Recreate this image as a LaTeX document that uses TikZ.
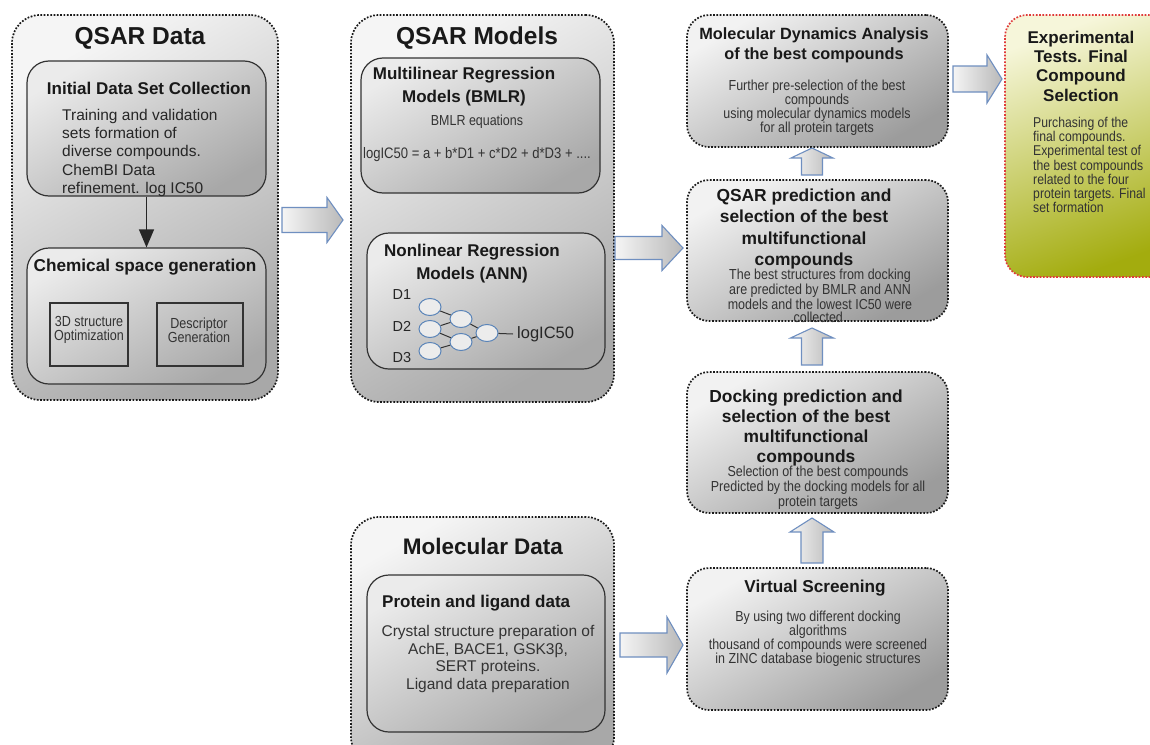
\documentclass[tikz,border=0pt]{standalone}
\usepackage{fontspec}
\setmainfont{Liberation Sans}
\newfontfamily\narrowf[FakeStretch=0.86]{Liberation Sans}
\usetikzlibrary{shapes.geometric,arrows.meta,fit}
\definecolor{arrowblue}{HTML}{6F8FC0}
\definecolor{annblue}{HTML}{5A84B8}
\definecolor{boxred}{HTML}{E03A3A}
\definecolor{olivelight}{HTML}{F6F6DA}
\definecolor{olivedark}{HTML}{A3AC0E}
\newcommand\fsz[2]{\fontsize{#1}{#2}\selectfont}
\newcommand\rarr[6]{% x0, tip x, yc, half shaft, half head, head length
  \draw[blockarrow] (#1,{#3-#4}) -- ({#2-#6},{#3-#4}) -- ({#2-#6},{#3-#5}) -- (#2,#3)
    -- ({#2-#6},{#3+#5}) -- ({#2-#6},{#3+#4}) -- (#1,{#3+#4}) -- cycle;}
\newcommand\uarr[6]{% xc, bottom y, tip y, half shaft, half head, head length
  \draw[blockarrow] ({#1-#4},#2) -- ({#1-#4},{#3+#6}) -- ({#1-#5},{#3+#6}) -- (#1,#3)
    -- ({#1+#5},{#3+#6}) -- ({#1+#4},{#3+#6}) -- ({#1+#4},#2) -- cycle;}
\begin{document}
\begin{tikzpicture}[x=1pt,y=-1pt,
  dotted border/.style={line width=1.7pt, dash pattern=on 1.7pt off 1.6pt},
  outerbox/.style={draw=black!90, dotted border, rounded corners=28pt, inner sep=0pt,
    top color=gray!8, bottom color=gray!68, shading angle=30},
  flowbox/.style={draw=black!90, dotted border, rounded corners=22pt, inner sep=0pt,
    top color=gray!10, bottom color=gray!78, shading angle=30},
  innerbox/.style={draw=black!80, line width=1.2pt, rounded corners=22pt, inner sep=0pt,
    top color=gray!16, bottom color=gray!68, shading angle=30},
  smallbox/.style={draw=black!80, line width=1.1pt, inner sep=0pt},
  blockarrow/.style={draw=arrowblue, line width=1.1pt, left color=gray!8, right color=gray!55},
  ttl/.style={inner sep=0pt, align=center, text=black!90},
  bodytxt/.style={inner sep=0pt, align=center, text=black!80},
  ann/.style={ellipse, draw=annblue, fill=gray!15, line width=1pt, minimum width=22pt, minimum height=17pt, inner sep=0pt},
  annedge/.style={draw=black!80, line width=1pt}
]
\useasboundingbox (0,0) rectangle (1150,744);
\fill[white] (0,0) rectangle (1150,744);

% ---------------- QSAR Data ----------------
\node[outerbox, fit={(12,15)(278,400)}] (qd) {};
\node[ttl, font=\fsz{24.5}{28}\bfseries] (qdt) at (140,38) {QSAR Data};
\node[innerbox, fit={(27,61)(266,196)}] (ids) {};
\node[ttl, font=\fsz{17}{18}\bfseries] (idst) at (149,88) {Initial Data Set Collection};
\node[inner sep=0pt, align=left, anchor=north west, text=black!85, font=\fsz{15.5}{18.2}] (idsb) at (62,109)
  {Training and validation\\sets formation of\\diverse compounds.\\ChemBI Data\\refinement. log IC50};
\node[innerbox, fit={(27,248)(266,384)}] (csg) {};
\node[ttl, font=\fsz{17.2}{20}\bfseries] (csgt) at (145,267) {Chemical space generation};
\node[smallbox, fit={(50,303)(128,366)}] (opt) {};
\node[bodytxt, font=\narrowf\fsz{14.6}{14}] (optt) at (89,330) {3D structure\\Optimization};
\node[smallbox, fit={(157,303)(243,366)}] (des) {};
\node[bodytxt, font=\narrowf\fsz{14.6}{14}] (dest) at (199,330) {Descriptor\\Generation};
\draw[line width=1.3pt, black!85, -{Triangle[length=18pt,width=15pt]}] (ids.south) -- (csg.north);

% ---------------- QSAR Models ----------------
\node[outerbox, fit={(351,15)(614,402)}] (qm) {};
\node[ttl, font=\fsz{24.5}{28}\bfseries] (qmt) at (477,38) {QSAR Models};
\node[innerbox, fit={(361,58)(600,193)}] (bmlr) {};
\node[ttl, font=\fsz{17}{23}\bfseries] (bmlrt) at (464,87) {Multilinear Regression\\Models (BMLR)};
\node[bodytxt, font=\narrowf\fsz{14.5}{14}] (bmlre) at (477,122) {BMLR equations};
\node[bodytxt, font=\narrowf\fsz{15.2}{14}] (bmlrq) at (477,155) {logIC50 = a + b*D1 + c*D2 + d*D3 + ....};
\node[innerbox, fit={(367,233)(605,369)}] (annb) {};
\node[ttl, font=\fsz{17}{23}\bfseries] (annt) at (472,264) {Nonlinear Regression\\Models (ANN)};
\node[inner sep=0pt, font=\fsz{14.5}{16}, text=black!85] (d1) at (402,295) {D1};
\node[inner sep=0pt, font=\fsz{14.5}{16}, text=black!85] (d2) at (402,326) {D2};
\node[inner sep=0pt, font=\fsz{14.5}{16}, text=black!85] (d3) at (402,358) {D3};
\node[ann] (i1) at (430,307) {};
\node[ann] (i2) at (430,329) {};
\node[ann] (i3) at (430,351) {};
\node[ann] (h1) at (461,319) {};
\node[ann] (h2) at (461,342) {};
\node[ann] (o1) at (487,333) {};
\node[inner sep=0pt, anchor=west, font=\fsz{16.5}{18}, text=black!85] (out) at (517,334) {logIC50};
\draw[annedge] (i1) -- (h1);
\draw[annedge] (i2) -- (h1);
\draw[annedge] (i2) -- (h2);
\draw[annedge] (i3) -- (h2);
\draw[annedge] (h1) -- (o1);
\draw[annedge] (h2) -- (o1);
\draw[annedge] (o1) -- ([xshift=-4pt]out.west);

% ---------------- Molecular Data ----------------
\node[outerbox, fit={(351,517)(614,765)}] (md) {};
\node[ttl, font=\fsz{22.5}{26}\bfseries] (mdt) at (483,546) {Molecular Data};
\node[innerbox, fit={(367,575)(605,732)}] (pl) {};
\node[ttl, anchor=west, font=\fsz{17}{18}\bfseries] (plt) at (382,603) {Protein and ligand data};
\node[bodytxt, font=\fsz{15.5}{17.8}] (plb) at (488,659)
  {Crystal structure preparation of\\AchE, BACE1, GSK3β,\\SERT proteins.\\Ligand data preparation};

% ---------------- Right column ----------------
\node[flowbox, fit={(687,15)(948,147)}] (mda) {};
\node[ttl, font=\fsz{16.3}{20}\bfseries] (mdat) at (814,45) {Molecular Dynamics Analysis\\of the best compounds};
\node[bodytxt, font=\narrowf\fsz{14.5}{14}] (mdab) at (817,108)
  {Further pre-selection of the best\\compounds\\using molecular dynamics models\\for all protein targets};

\node[flowbox, fit={(687,180)(948,321)}] (qp) {};
\node[ttl, font=\fsz{17.4}{21.3}\bfseries] (qpt) at (804,229) {QSAR prediction and\\selection of the best\\multifunctional\\compounds};
\node[bodytxt, font=\narrowf\fsz{14.5}{13.4}] (qpb) at (820,296)
  {The best structures from docking\\are predicted by BMLR and ANN\\models and the lowest IC50 were\\collected.};

\node[flowbox, fit={(687,372)(948,513)}] (dp) {};
\node[ttl, font=\fsz{17.4}{19.8}\bfseries] (dpt) at (806,428) {Docking prediction and\\selection of the best\\multifunctional\\compounds};
\node[bodytxt, font=\narrowf\fsz{14.5}{15}] (dpb) at (818,488)
  {Selection of the best compounds\\Predicted by the docking models for all\\protein targets};

\node[flowbox, fit={(687,568)(948,710)}] (vs) {};
\node[ttl, font=\fsz{17.2}{19}\bfseries] (vst) at (815,588) {Virtual Screening};
\node[bodytxt, font=\narrowf\fsz{14.5}{14}] (vsb) at (818,639)
  {By using two different docking\\algorithms\\thousand of compounds were screened\\in ZINC database biogenic structures};

\node[draw=boxred, dotted border, rounded corners=22pt, inner sep=0pt,
  top color=olivelight, bottom color=olivedark, shading angle=20, fit={(1005,15)(1175,277)}] (ex) {};
\node[ttl, font=\fsz{17}{19.3}\bfseries] (ext) at (1081,66) {Experimental\\Tests. Final\\Compound\\Selection};
\node[inner sep=0pt, align=left, anchor=north west, text=black!80, font=\narrowf\fsz{14.2}{14.2}] (exb) at (1033,117)
  {Purchasing of the\\final compounds.\\Experimental test of\\the best compounds\\related to the four\\protein targets. Final\\set formation};

% ---------------- Block arrows ----------------
\rarr{282}{343}{220}{12.5}{22.5}{16}
\rarr{615}{683}{248}{11.5}{22.5}{21}
\rarr{953}{1002}{79}{13}{24}{15}
\rarr{620}{683}{645}{12}{28}{16}
\uarr{812}{175}{148}{10.5}{21}{10}
\uarr{812}{365}{328}{10.5}{21.5}{10}
\uarr{812}{563}{518}{11}{22}{14}
\end{tikzpicture}
\end{document}
